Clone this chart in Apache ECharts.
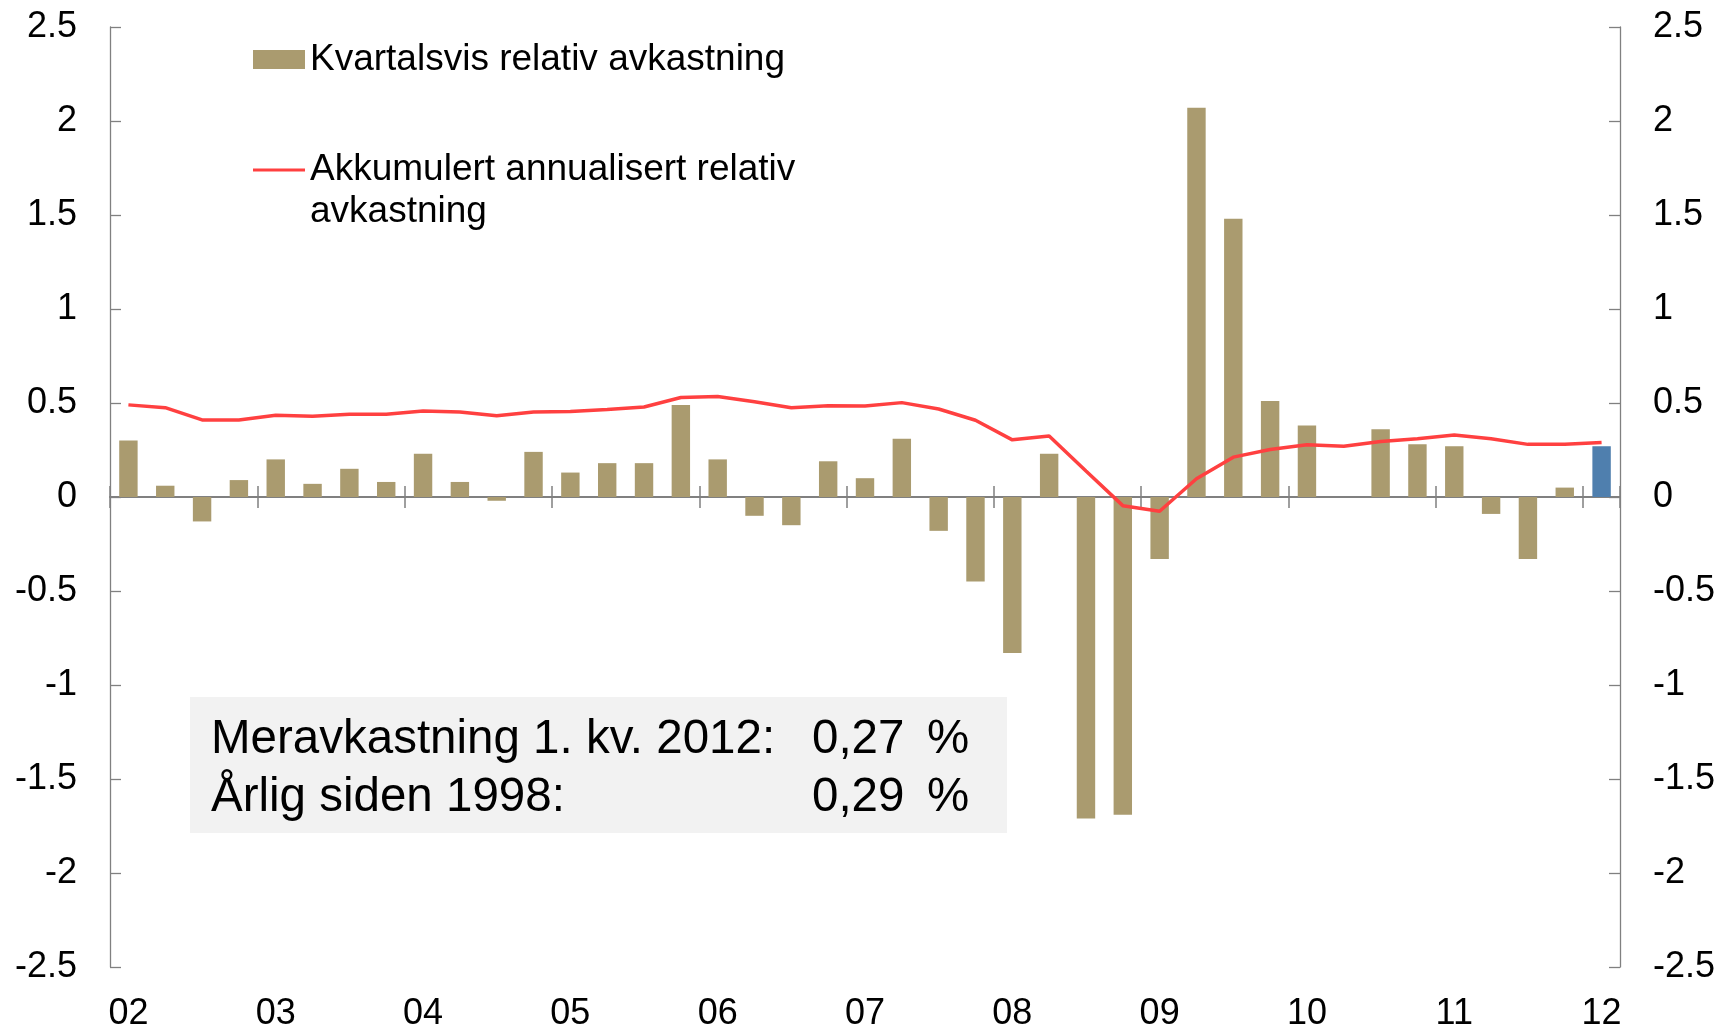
<!DOCTYPE html>
<html>
<head>
<meta charset="utf-8">
<title>Relativ avkastning</title>
<script src="https://cdn.jsdelivr.net/npm/echarts@6/dist/echarts.min.js"></script>
<style>
    html, body { margin: 0; padding: 0; background: #fff; }
    #chart { width: 1721px; height: 1027px; }
</style>
</head>
<body>
<div id="chart"></div>
<script>
    // kvartaler 2002 K1 - 2012 K1
    var quarters = [
        '02K1', '02K2', '02K3', '02K4', '03K1', '03K2', '03K3', '03K4',
        '04K1', '04K2', '04K3', '04K4', '05K1', '05K2', '05K3', '05K4',
        '06K1', '06K2', '06K3', '06K4', '07K1', '07K2', '07K3', '07K4',
        '08K1', '08K2', '08K3', '08K4', '09K1', '09K2', '09K3', '09K4',
        '10K1', '10K2', '10K3', '10K4', '11K1', '11K2', '11K3', '11K4',
        '12K1'
    ];
    var yearLabels = ['02', '03', '04', '05', '06', '07', '08', '09', '10', '11', '12'];

    var kvartalsvis = [
        0.30, 0.06, -0.13, 0.09, 0.20, 0.07, 0.15, 0.08,
        0.23, 0.08, -0.02, 0.24, 0.13, 0.18, 0.18, 0.49,
        0.20, -0.10, -0.15, 0.19, 0.10, 0.31, -0.18, -0.45,
        -0.83, 0.23, -1.71, -1.69, -0.33, 2.07, 1.48, 0.51,
        0.38, 0.00, 0.36, 0.28, 0.27, -0.09, -0.33, 0.05,
        0.27
    ];
    var akkumulert = [
        0.49, 0.475, 0.41, 0.41, 0.435, 0.43, 0.44, 0.44,
        0.457, 0.452, 0.432, 0.452, 0.455, 0.466, 0.479, 0.529,
        0.535, 0.507, 0.475, 0.486, 0.484, 0.502, 0.468, 0.408,
        0.304, 0.324, 0.138, -0.046, -0.076, 0.097, 0.212, 0.253,
        0.278, 0.27, 0.295, 0.31, 0.33, 0.31, 0.28, 0.28,
        0.29
    ];

    var barName = 'Kvartalsvis relativ avkastning';
    var lineName = 'Akkumulert annualisert relativ\navkastning';

    var font = '"Liberation Sans", Arial, sans-serif';
    var axisGrey = '#808080';
    var barColor = '#aa9b6f';
    var lastColor = '#4f7fae';
    var lineColor = '#ff4040';

    var myChart = echarts.init(document.getElementById('chart'));

    var everyYear = function (index) { return index % 4 === 0; };

    function valueAxis(pos) {
        return {
            type: 'value',
            position: pos,
            min: -2.5,
            max: 2.5,
            interval: 0.5,
            splitLine: { show: false },
            axisLine: { show: true, onZero: false, lineStyle: { color: axisGrey, width: 1.3 } },
            axisTick: { show: true, inside: true, length: 11, lineStyle: { color: axisGrey, width: 1.3 } },
            axisLabel: { margin: 33, fontSize: 36, color: '#000', fontFamily: font }
        };
    }

    // siste kvartal i blått
    var barData = kvartalsvis.map(function (v, i) {
        return i === kvartalsvis.length - 1 ? { value: v, itemStyle: { color: lastColor } } : v;
    });

    myChart.setOption({
        animation: false,
        textStyle: { fontFamily: font },
        grid: { left: 110, right: 101, top: 27, bottom: 60, containLabel: false, outerBoundsMode: 'none' },
        legend: [
            {
                data: [{ name: barName, icon: 'rect' }],
                left: 253, top: 41, padding: 0,
                itemWidth: 52, itemHeight: 19,
                selectedMode: false,
                textStyle: { fontSize: 37, color: '#000', fontFamily: font }
            },
            {
                data: [{ name: lineName, icon: 'rect' }],
                left: 253, top: 107, padding: 0,
                itemWidth: 52, itemHeight: 3,
                selectedMode: false,
                itemStyle: { color: lineColor },
                formatter: function (name) { return ' \n' + name; },
                textStyle: { fontSize: 37, lineHeight: 42, color: '#000', fontFamily: font }
            }
        ],
        xAxis: [
            {
                // årstall nederst
                type: 'category',
                data: quarters,
                position: 'bottom',
                axisLine: { show: false, onZero: false },
                axisTick: { show: false },
                axisLabel: {
                    interval: everyYear,
                    margin: 29,
                    fontSize: 36,
                    color: '#000',
                    fontFamily: font,
                    formatter: function (v, i) { return yearLabels[Math.floor(i / 4)]; }
                }
            },
            {
                // nullinje, streker nedover
                type: 'category',
                data: quarters,
                position: 'bottom',
                axisLine: { show: true, onZero: true, lineStyle: { color: axisGrey, width: 2 } },
                axisTick: { show: true, interval: everyYear, length: 11, lineStyle: { color: axisGrey, width: 1.5 } },
                axisLabel: { show: false }
            },
            {
                // streker oppover
                type: 'category',
                data: quarters,
                position: 'top',
                axisLine: { show: false, onZero: true },
                axisTick: { show: true, interval: everyYear, length: 11, lineStyle: { color: axisGrey, width: 1.5 } },
                axisLabel: { show: false }
            }
        ],
        yAxis: [valueAxis('left'), valueAxis('right')],
        series: [
            {
                name: barName,
                type: 'bar',
                xAxisIndex: 0,
                yAxisIndex: 0,
                barWidth: '50%',
                data: barData,
                itemStyle: { color: barColor },
                z: 2
            },
            {
                name: lineName,
                type: 'line',
                xAxisIndex: 0,
                yAxisIndex: 0,
                symbol: 'none',
                data: akkumulert,
                itemStyle: { color: lineColor },
                lineStyle: { color: lineColor, width: 3.5 },
                z: 3
            }
        ],
        graphic: [
            {
                type: 'rect',
                shape: { x: 190, y: 697, width: 817, height: 136 },
                style: { fill: '#f2f2f2' },
                z: 0
            },
            { type: 'text', x: 211, y: 740, style: { text: 'Meravkastning 1. kv. 2012:', font: '47.5px ' + font, fill: '#000', verticalAlign: 'middle' } },
            { type: 'text', x: 812, y: 740, style: { text: '0,27', font: '47.5px ' + font, fill: '#000', verticalAlign: 'middle' } },
            { type: 'text', x: 927, y: 740, style: { text: '%', font: '47.5px ' + font, fill: '#000', verticalAlign: 'middle' } },
            { type: 'text', x: 211, y: 798, style: { text: 'Årlig siden 1998:', font: '47.5px ' + font, fill: '#000', verticalAlign: 'middle' } },
            { type: 'text', x: 812, y: 798, style: { text: '0,29', font: '47.5px ' + font, fill: '#000', verticalAlign: 'middle' } },
            { type: 'text', x: 927, y: 798, style: { text: '%', font: '47.5px ' + font, fill: '#000', verticalAlign: 'middle' } }
        ]
    });
</script>
</body>
</html>
